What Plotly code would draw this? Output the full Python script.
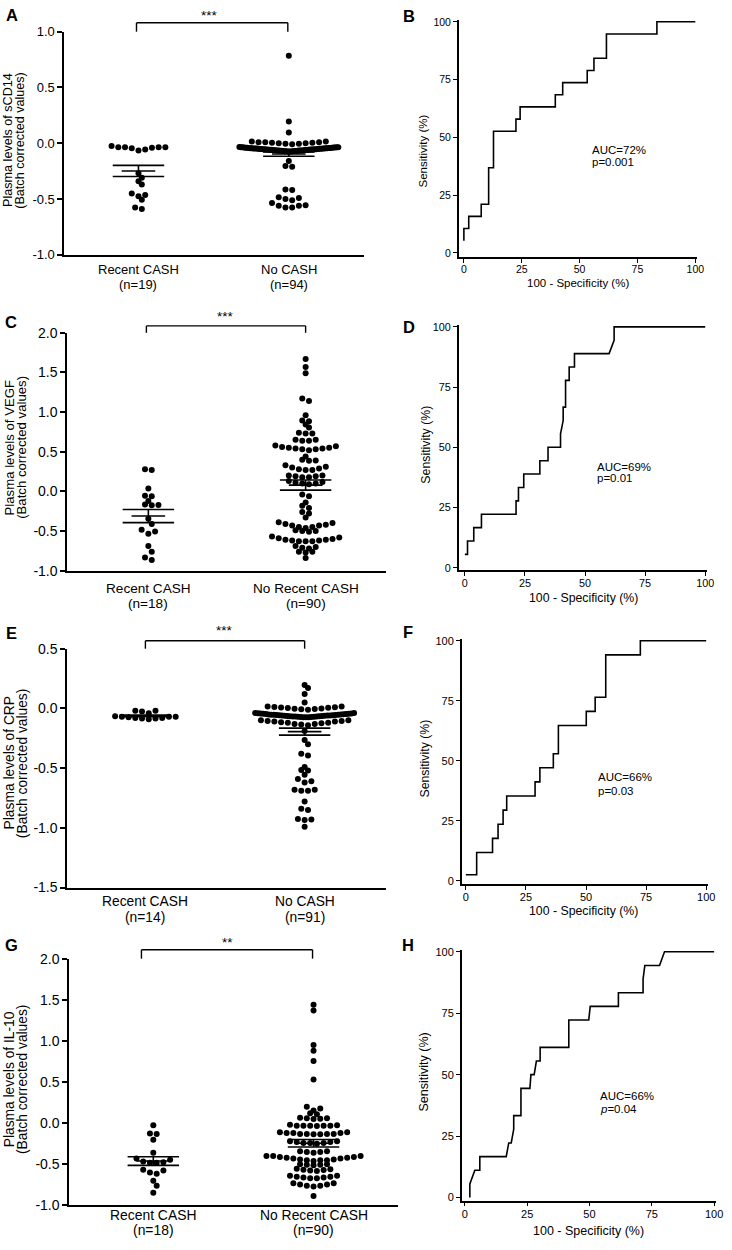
import numpy as np
import plotly.graph_objects as go

W, H = 732, 1250
FONT = "Liberation Sans, Arial, Helvetica, sans-serif"

# ===================== DATA =====================
# ---- Panel A : sCD14 ----
a_categories = ["Recent CASH", "No CASH"]
a_counts = ["(n=19)", "(n=94)"]
a_title = ["Plasma levels of sCD14", "(Batch corrected values)"]
a_ticks = [1.0, 0.5, 0.0, -0.5, -1.0]
a_sig = "***"
a_recent = [-0.025, -0.035, -0.035, -0.035, -0.045, -0.04, -0.055, -0.065, -0.035,
            -0.27, -0.31, -0.34, -0.37, -0.45, -0.465, -0.475, -0.507, -0.575, -0.59]
a_no = [0.785, 0.195, 0.097,
        0.015, 0.015, 0.01, 0.01, 0.005, 0.0, -0.005, -0.008, -0.005, 0.0, 0.005, 0.01,
        -0.034, -0.035, -0.036, -0.036, -0.037, -0.038, -0.038, -0.039, -0.040, -0.040,
        -0.041, -0.042, -0.042, -0.043, -0.044, -0.044, -0.045, -0.045, -0.046, -0.047,
        -0.047, -0.048, -0.048, -0.049, -0.050, -0.050, -0.051, -0.051, -0.052, -0.053,
        -0.053, -0.054, -0.054, -0.055, -0.056, -0.056, -0.057, -0.057, -0.058, -0.059,
        -0.059, -0.060, -0.060, -0.061, -0.062, -0.062, -0.063, -0.064, -0.064, -0.065,
        -0.066, -0.066, -0.067, -0.068, -0.068, -0.069, -0.070, -0.070, -0.071, -0.072,
        -0.072, -0.073, -0.074, -0.075,
        -0.16, -0.205, -0.21,
        -0.415, -0.42, -0.485, -0.50, -0.51, -0.49,
        -0.535, -0.555, -0.56, -0.575, -0.575, -0.56]

# ---- Panel B : ROC sCD14 ----
b_fpr = [0, 0, 2.1, 2.1, 7.5, 7.5, 10.7, 10.7, 12.8, 12.8, 22.5, 22.5, 24.3, 24.3,
         39.5, 39.5, 42.7, 42.7, 53.3, 53.3, 56.2, 56.2, 61.6, 61.6, 83.4, 83.4, 100]
b_tpr = [5.26, 10.53, 10.53, 15.79, 15.79, 21.05, 21.05, 36.84, 36.84, 52.63, 52.63,
         57.89, 57.89, 63.16, 63.16, 68.42, 68.42, 73.68, 73.68, 78.95, 78.95, 84.21,
         84.21, 94.74, 94.74, 100, 100]
b_auc, b_p = "AUC=72%", "p=0.001"

# ---- Panel C : VEGF ----
c_categories = ["Recent CASH", "No Recent CASH"]
c_counts = ["(n=18)", "(n=90)"]
c_title = ["Plasma levels of VEGF", "(Batch corrected values)"]
c_ticks = [2.0, 1.5, 1.0, 0.5, 0.0, -0.5, -1.0]
c_sig = "***"
c_recent = [0.28, 0.27, 0.035, -0.055, -0.06, -0.12, -0.165, -0.17, -0.175,
            -0.345, -0.41, -0.485, -0.505, -0.535, -0.69, -0.76, -0.835, -0.865]
c_no = [1.67, 1.57, 1.49, 1.17, 1.14, 0.96, 0.895, 0.885, 0.845, 0.805,
        0.74, 0.73, 0.73, 0.65, 0.65, 0.64, 0.64,
        0.57, 0.58, 0.56, 0.55, 0.54, 0.53, 0.52, 0.53, 0.54, 0.55,
        0.44, 0.40, 0.39, 0.385,
        0.33, 0.31, 0.30, 0.29, 0.28, 0.27, 0.27,
        0.20, 0.19, 0.18, 0.18, 0.19, 0.20,
        0.13, 0.11, 0.10, 0.09, 0.10, 0.12,
        -0.04, -0.06, -0.14, -0.18, -0.21, -0.26, -0.28, -0.33,
        -0.39, -0.40, -0.42, -0.43, -0.45, -0.46, -0.45, -0.43, -0.41,
        -0.50, -0.51, -0.50, -0.49,
        -0.57, -0.59, -0.60, -0.61, -0.62, -0.63, -0.63, -0.63, -0.62, -0.61, -0.58,
        -0.69, -0.70, -0.71, -0.72, -0.76, -0.77, -0.76, -0.84]

# ---- Panel D : ROC VEGF ----
d_fpr = [0, 1.1, 1.1, 3.7, 3.7, 6.9, 6.9, 21.3, 21.3, 22.3, 22.3, 24.5, 24.5, 31.2, 31.2,
         34.6, 34.6, 39.8, 39.8, 40.9, 40.9, 41.9, 41.9, 43.4, 43.4, 45.6, 45.6, 60.0,
         62.1, 62.1, 100]
d_tpr = [5.56, 5.56, 11.11, 11.11, 16.67, 16.67, 22.22, 22.22, 27.78, 27.78, 33.33, 33.33,
         38.89, 38.89, 44.44, 44.44, 50.0, 50.0, 55.56, 61.11, 66.67, 66.67, 77.78, 77.78,
         83.33, 83.33, 88.89, 88.89, 94.44, 100, 100]
d_auc, d_p = "AUC=69%", "p=0.01"

# ---- Panel E : CRP ----
e_categories = ["Recent CASH", "No CASH"]
e_counts = ["(n=14)", "(n=91)"]
e_title = ["Plasma levels of CRP", "(Batch corrected values)"]
e_ticks = [0.5, 0.0, -0.5, -1.0, -1.5]
e_sig = "***"
e_recent = [-0.02, -0.02, -0.025, -0.04, -0.065, -0.07, -0.07, -0.075, -0.08, -0.08,
            -0.085, -0.085, -0.09, -0.07]
e_no = [0.197, 0.17, 0.12, 0.05,
        0.015, 0.012, 0.008, 0.005, 0.0, -0.005, -0.012, -0.008, -0.003, 0.003, 0.01, 0.015,
        -0.038, -0.039, -0.041, -0.042, -0.043, -0.045, -0.046, -0.047, -0.049, -0.050,
        -0.051, -0.052, -0.054, -0.055, -0.056, -0.057, -0.058, -0.059, -0.060, -0.061,
        -0.062, -0.063, -0.064, -0.065, -0.066, -0.067, -0.068, -0.069, -0.070, -0.071,
        -0.072, -0.073, -0.074, -0.075, -0.044, -0.053, -0.060, -0.068,
        -0.10, -0.105, -0.11, -0.115, -0.12, -0.125, -0.13, -0.135, -0.14, -0.13,
        -0.12, -0.11, -0.105, -0.10,
        -0.19, -0.265, -0.30, -0.38, -0.395, -0.49, -0.515, -0.52, -0.555,
        -0.59, -0.61, -0.62, -0.68, -0.69, -0.69, -0.68, -0.78, -0.84, -0.85,
        -0.925, -0.93, -0.935, -0.99]

# ---- Panel F : ROC CRP ----
f_fpr = [0, 4.5, 4.5, 11.1, 11.1, 13.4, 13.4, 15.5, 15.5, 17.0, 17.0, 28.8, 28.8, 30.8,
         30.8, 36.4, 36.4, 38.5, 38.5, 50.1, 50.1, 53.8, 53.8, 58.2, 58.2, 72.6, 72.6, 100]
f_tpr = [2.5, 2.5, 11.76, 11.76, 17.65, 17.65, 23.53, 23.53, 29.41, 29.41, 35.29, 35.29,
         41.18, 41.18, 47.06, 47.06, 52.94, 52.94, 64.71, 64.71, 70.59, 70.59, 76.47, 76.47,
         94.12, 94.12, 100, 100]
f_auc, f_p = "AUC=66%", "p=0.03"

# ---- Panel G : IL-10 ----
g_categories = ["Recent CASH", "No Recent CASH"]
g_counts = ["(n=18)", "(n=90)"]
g_title = ["Plasma levels of IL-10", "(Batch corrected values)"]
g_ticks = [2.0, 1.5, 1.0, 0.5, 0.0, -0.5, -1.0]
g_sig = "**"
g_recent = [-0.026, -0.125, -0.13, -0.20, -0.36, -0.43, -0.445, -0.465, -0.475, -0.48,
            -0.48, -0.565, -0.575, -0.60, -0.615, -0.70, -0.76, -0.845]
g_no = [1.44, 1.37, 0.95, 0.88, 0.755, 0.53,
        0.20, 0.18, 0.155, 0.12, 0.11,
        0.065, 0.06, 0.06, 0.055, 0.05,
        -0.02, -0.03, -0.03, -0.03, -0.035, -0.03, -0.03, -0.025,
        -0.11, -0.12, -0.12, -0.13, -0.13, -0.135, -0.135, -0.13, -0.13, -0.12, -0.11,
        -0.22, -0.23, -0.24, -0.24, -0.25, -0.24, -0.23, -0.22,
        -0.34, -0.35, -0.36, -0.35, -0.34,
        -0.40, -0.41, -0.42, -0.43, -0.44, -0.45, -0.45, -0.46, -0.45, -0.44, -0.43,
        -0.42, -0.41, -0.40, -0.40,
        -0.50, -0.505, -0.51, -0.505, -0.50,
        -0.56, -0.57, -0.58, -0.575, -0.565, -0.555,
        -0.64, -0.65, -0.66, -0.67, -0.67, -0.66, -0.65, -0.64,
        -0.73, -0.745, -0.76, -0.77, -0.76, -0.745, -0.73,
        -0.886]

# ---- Panel H : ROC IL-10 ----
h_fpr = [2.0, 2.0, 4.0, 6.0, 6.0, 16.6, 17.6, 18.6, 19.6, 19.6, 22.5, 22.5, 26.1, 26.5,
         27.8, 28.7, 30.2, 30.2, 41.7, 41.7, 49.7, 50.3, 61.6, 61.6, 71.5, 71.5, 72.2,
         78.1, 80.1, 100]
h_tpr = [0, 5.56, 11.11, 11.11, 16.67, 16.67, 22.22, 22.22, 27.78, 33.33, 33.33, 44.44,
         44.44, 50.0, 50.0, 55.56, 55.56, 61.11, 61.11, 72.22, 72.22, 77.78, 77.78, 83.33,
         83.33, 88.89, 94.44, 94.44, 100, 100]
h_auc, h_p = "AUC=66%", "<i>p</i>=0.04"

roc_ticks = [0, 25, 50, 75, 100]
roc_xtitle = "100 - Specificity (%)"
roc_ytitle = "Sensitivity (%)"

# ===================== LAYOUT GEOMETRY (pixels) =====================
def fx(px):
    return px / W


def fy(py):
    return 1 - py / H


def ax_names(n):
    s = "" if n == 1 else str(n)
    return "xaxis" + s, "yaxis" + s, "x" + s, "y" + s


dot_specs = [
    dict(n=1, letter="A", letter_xy=(12, 7), groups=[a_recent, a_no], cats=a_categories,
         counts=a_counts, title=a_title, ticks=a_ticks, box=(65, 368, 24, 250),
         cat_px=(140, 292), cat_y=(265, 280), title_x=(8.7, 20.7), title_y=134,
         bracket=(138, 291, 15, 24), sig=a_sig, sig_xy=(212, 8),
         fs_tick=13, fs_cat=13, fs_title=12.6),
    dict(n=3, letter="C", letter_xy=(11, 318), groups=[c_recent, c_no], cats=c_categories,
         counts=c_counts, title=c_title, ticks=c_ticks, box=(68, 390, 329, 570),
         cat_px=(150, 309), cat_y=(588, 603), title_x=(9.3, 21.8), title_y=445,
         bracket=(148, 309, 322, 329), sig=c_sig, sig_xy=(228, 313),
         fs_tick=14, fs_cat=13.6, fs_title=13.2),
    dict(n=5, letter="E", letter_xy=(12, 633), groups=[e_recent, e_no], cats=e_categories,
         counts=e_counts, title=e_title, ticks=e_ticks, box=(68, 390, 649, 891),
         cat_px=(147, 308), cat_y=(905, 921), title_x=(9.3, 22.2), title_y=765,
         bracket=(147, 308, 641, 649), sig=e_sig, sig_xy=(227, 631),
         fs_tick=14, fs_cat=13.8, fs_title=13.8),
    dict(n=7, letter="G", letter_xy=(12, 949), groups=[g_recent, g_no], cats=g_categories,
         counts=g_counts, title=g_title, ticks=g_ticks, box=(70, 402, 963, 1213),
         cat_px=(155, 317), cat_y=(1223, 1238), title_x=(9.3, 22.2), title_y=1085,
         bracket=(143, 316, 954, 963), sig=g_sig, sig_xy=(230, 947),
         fs_tick=14, fs_cat=13.9, fs_title=13.8),
]

roc_specs = [
    dict(n=2, letter="B", letter_xy=(414, 8), fpr=b_fpr, tpr=b_tpr, auc=b_auc, p=b_p,
         yax=464, x0=469, x100=703, y100=14, y0=248, xax=252,
         auc_xy=(597, 144, 156), yt=(428, 145), xt=(584, 279), tfs=11.5, kfs=10.5),
    dict(n=4, letter="D", letter_xy=(414, 323), fpr=d_fpr, tpr=d_tpr, auc=d_auc, p=d_p,
         yax=464, x0=470, x100=713, y100=323, y0=567, xax=569,
         auc_xy=(602, 465, 476), yt=(431, 442), xt=(590, 598), tfs=12.3, kfs=10.8),
    dict(n=6, letter="F", letter_xy=(413, 632), fpr=f_fpr, tpr=f_tpr, auc=f_auc, p=f_p,
         yax=467, x0=471, x100=714, y100=641, y0=884, xax=887,
         auc_xy=(603, 779, 793), yt=(430, 760), xt=(590, 915), tfs=12.3, kfs=11),
    dict(n=8, letter="H", letter_xy=(413, 949), fpr=h_fpr, tpr=h_tpr, auc=h_auc, p=h_p,
         yax=467, x0=470, x100=722, y100=956, y0=1205, xax=1208,
         auc_xy=(605, 1102, 1115), yt=(429, 1078), xt=(595, 1239), tfs=12.5, kfs=11),
]


def swarm(vals, ppu, dx=6.8, maxw=100.0, gap=2.5, span=6.0, dia=5.8):
    """GraphPad-like scatter layout: horizontal rows, centred, returns px offsets."""
    order = sorted(range(len(vals)), key=lambda i: -vals[i])
    rows = []
    for i in order:
        v = vals[i]
        if rows and (rows[-1]["last"] - v) * ppu <= gap and (rows[-1]["start"] - v) * ppu <= span:
            rows[-1]["ids"].append(i)
            rows[-1]["last"] = v
        else:
            rows.append({"ids": [i], "start": v, "last": v})
    offs = [0.0] * len(vals)
    prev_pos, prev_y = None, None
    for r in rows:
        ids = sorted(r["ids"], key=lambda i: vals[i])
        k = len(ids)
        s = dx if k == 1 else min(dx, maxw / (k - 1))
        base = [(j - (k - 1) / 2) * s for j in range(k)]
        ymid = sum(vals[i] for i in ids) / k
        shift = 0.0
        if prev_pos is not None and (prev_y - ymid) * ppu < dia and s >= dx * 0.99:
            def mind(sh):
                return min(abs(b + sh - p) for b in base for p in prev_pos)
            if mind(s / 2) > mind(0.0) + 0.01:
                shift = s / 2
        slots = sorted(base, key=lambda x: (abs(x), -x))
        for i, sl in zip(ids, slots):
            offs[i] = sl + shift
        prev_pos = [b + shift for b in base]
        prev_y = ymid
    return offs


def fmt_tick(v):
    return ("-" if v < 0 else "") + f"{abs(v):.1f}"


fig = go.Figure()
layout = dict(width=W, height=H, margin=dict(l=0, r=0, t=0, b=0),
              paper_bgcolor="white", plot_bgcolor="white", showlegend=False,
              font=dict(family=FONT, color="black"))
annotations, shapes = [], []


def add_text(x, y, text, size, xref="paper", yref="paper", angle=0, xanchor="center",
             bold=False, yanchor="middle"):
    annotations.append(dict(x=x, y=y, xref=xref, yref=yref,
                            text=("<b>%s</b>" % text) if bold else text,
                            showarrow=False, textangle=angle, xanchor=xanchor, yanchor=yanchor,
                            font=dict(family=FONT, size=size, color="black")))


LW = 1.8
for sp in dot_specs:
    xa, ya, xr, yr = ax_names(sp["n"])
    x0, x1, y0, y1 = sp["box"]
    c0, c1 = sp["cat_px"]
    unit = c1 - c0
    yrng = (min(sp["ticks"]), max(sp["ticks"]))
    ppu = (y1 - y0) / (yrng[1] - yrng[0])
    layout[xa] = dict(domain=[fx(x0), fx(x1)], range=[(x0 - c0) / unit, 1 + (x1 - c1) / unit],
                      anchor=yr, showline=True, linewidth=LW, linecolor="black", ticks="",
                      showticklabels=False, showgrid=False, zeroline=False, fixedrange=True)
    layout[ya] = dict(domain=[fy(y1), fy(y0)], range=list(yrng), anchor=xr, showline=True,
                      linewidth=LW, linecolor="black", ticks="outside", ticklen=5, tickwidth=1.5,
                      tickcolor="black", tickvals=sp["ticks"],
                      ticktext=[fmt_tick(t) for t in sp["ticks"]],
                      tickfont=dict(family=FONT, size=sp["fs_tick"], color="black"),
                      showgrid=False, zeroline=False, fixedrange=True)
    for gi, vals in enumerate(sp["groups"]):
        offs = swarm(vals, ppu)
        fig.add_trace(go.Scatter(x=[gi + o / unit for o in offs], y=vals, mode="markers",
                                 xaxis=xr, yaxis=yr,
                                 marker=dict(size=6, color="black", line=dict(width=0)),
                                 hoverinfo="y"))
        arr = np.array(vals)
        m = float(arr.mean())
        se = float(arr.std(ddof=1) / np.sqrt(len(arr)))
        hm, hs = 17 / unit, 26 / unit
        fig.add_trace(go.Scatter(
            x=[gi - hm, gi + hm, None, gi - hs, gi + hs, None, gi - hs, gi + hs, None, gi, gi],
            y=[m, m, None, m + se, m + se, None, m - se, m - se, None, m - se, m + se],
            mode="lines", line=dict(color="black", width=1.6), xaxis=xr, yaxis=yr,
            hoverinfo="skip"))
        add_text(gi, fy(sp["cat_y"][0]), sp["cats"][gi], sp["fs_cat"], xref=xr)
        add_text(gi, fy(sp["cat_y"][1]), sp["counts"][gi], sp["fs_cat"], xref=xr)
    # y-axis title (two lines)
    add_text(fx(sp["title_x"][0]), fy(sp["title_y"]), sp["title"][0], sp["fs_title"], angle=-90)
    add_text(fx(sp["title_x"][1]), fy(sp["title_y"]), sp["title"][1], sp["fs_title"], angle=-90)
    # significance bracket
    bx0, bx1, by, bt = sp["bracket"]
    for (ax0, ay0, ax1, ay1) in [(bx0, by, bx1, by), (bx0, by, bx0, bt), (bx1, by, bx1, bt)]:
        shapes.append(dict(type="line", xref="paper", yref="paper", x0=fx(ax0), y0=fy(ay0),
                           x1=fx(ax1), y1=fy(ay1), line=dict(color="black", width=1.4)))
    add_text(fx(sp["sig_xy"][0]), fy(sp["sig_xy"][1]), sp["sig"], 13.5)
    add_text(fx(sp["letter_xy"][0]), fy(sp["letter_xy"][1]), sp["letter"], 16.5, bold=True)

for sp in roc_specs:
    xa, ya, xr, yr = ax_names(sp["n"])
    ppx = (sp["x100"] - sp["x0"]) / 100.0
    ppy = (sp["y0"] - sp["y100"]) / 100.0
    xmin = -(sp["x0"] - sp["yax"]) / ppx
    xmax = 100.6
    ymin = -(sp["xax"] - sp["y0"]) / ppy
    ymax = 100.8
    layout[xa] = dict(domain=[fx(sp["yax"]), fx(sp["x0"] + xmax * ppx)], range=[xmin, xmax],
                      anchor=yr, showline=True, linewidth=LW, linecolor="black",
                      ticks="outside", ticklen=4, tickwidth=1.4, tickcolor="black",
                      tickvals=roc_ticks, ticklabelstandoff=-2,
                      tickfont=dict(family=FONT, size=sp["kfs"], color="black"),
                      showgrid=False, zeroline=False, fixedrange=True)
    layout[ya] = dict(domain=[fy(sp["xax"]), fy(sp["y0"] - ymax * ppy)], range=[ymin, ymax],
                      anchor=xr, showline=True, linewidth=LW, linecolor="black",
                      ticks="outside", ticklen=4, tickwidth=1.4, tickcolor="black",
                      tickvals=roc_ticks,
                      tickfont=dict(family=FONT, size=sp["kfs"], color="black"),
                      showgrid=False, zeroline=False, fixedrange=True)
    fig.add_trace(go.Scatter(x=sp["fpr"], y=sp["tpr"], mode="lines", xaxis=xr, yaxis=yr,
                             line=dict(color="black", width=1.6), hoverinfo="x+y"))
    ax_, ay1_, ay2_ = sp["auc_xy"]
    add_text(fx(ax_), fy(ay1_), sp["auc"], 11.5, xanchor="left")
    add_text(fx(ax_), fy(ay2_), sp["p"], 11.5, xanchor="left")
    add_text(fx(sp["yt"][0]), fy(sp["yt"][1]), roc_ytitle, sp["tfs"], angle=-90)
    add_text(fx(sp["xt"][0]), fy(sp["xt"][1]), roc_xtitle, sp["tfs"])
    add_text(fx(sp["letter_xy"][0]), fy(sp["letter_xy"][1]), sp["letter"], 16.5, bold=True)

layout["annotations"] = annotations
layout["shapes"] = shapes
fig.update_layout(**layout)
fig.write_html("out.html", config={"displayModeBar": False},
               post_script="document.body.style.margin='0';")
